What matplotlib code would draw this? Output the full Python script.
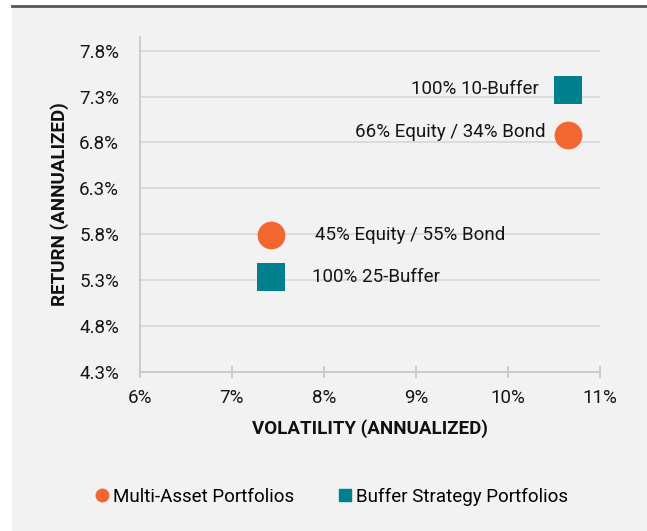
import matplotlib
matplotlib.use("Agg")
import matplotlib.pyplot as plt
from matplotlib.patches import Rectangle
from matplotlib.lines import Line2D
from matplotlib.ticker import FuncFormatter

plt.rcParams['font.family'] = ['Roboto', 'DejaVu Sans']

# data
labels = ["66% Equity / 34% Bond", "45% Equity / 55% Bond", "100% 10-Buffer", "100% 25-Buffer"]
volatility = [10.65, 7.42, 10.65, 7.42]
returns = [6.88, 5.79, 7.37, 5.33]
groups = ["multi", "multi", "buffer", "buffer"]
x_ticks = [6, 7, 8, 9, 10, 11]
y_ticks = [4.3, 4.8, 5.3, 5.8, 6.3, 6.8, 7.3, 7.8]

orange = "#f26631"
teal = "#00808c"
bg = "#f2f2f2"
fs = 13.5

fig = plt.figure(figsize=(6.47, 5.31), dpi=100)
fig.patch.set_facecolor("white")
fig.patches.append(Rectangle((12 / 647, 0), 1, 1 - 6 / 531, transform=fig.transFigure,
                             facecolor=bg, edgecolor="none", zorder=-10))
fig.lines.append(Line2D([12 / 647, 1], [1 - 5.5 / 531, 1 - 5.5 / 531], transform=fig.transFigure,
                        color="#555555", lw=2, zorder=-5))

ax = fig.add_axes([140 / 647, 0.30, 460 / 647, 0.6303])
ax.set_facecolor(bg)

for i in range(len(labels)):
    if groups[i] == "multi":
        ax.scatter(volatility[i], returns[i], s=400, marker="o", color=orange, zorder=3, linewidths=0)
    else:
        ax.scatter(volatility[i], returns[i], s=400, marker="s", color=teal, zorder=3, linewidths=0)

# label placement
offsets = [(-16, 2), (32, 0), (-21, 1), (30, 0)]
for i in range(len(labels)):
    dx, dy = offsets[i]
    ax.annotate(labels[i], (volatility[i], returns[i]), xytext=(dx, dy), textcoords="offset points",
                ha="right" if dx < 0 else "left", va="center", fontsize=fs, color="#151515")

ax.set_xlim(6, 11)
ax.set_ylim(4.3, 7.95)
ax.set_xticks(x_ticks)
ax.set_yticks(y_ticks)
ax.xaxis.set_major_formatter(FuncFormatter(lambda v, p: f"{v:.0f}%"))
ax.yaxis.set_major_formatter(FuncFormatter(lambda v, p: f"{v:.1f}%"))
ax.grid(axis="y", color="#d9d9d9", lw=1.3)
ax.set_axisbelow(True)

for s in ["top", "right"]:
    ax.spines[s].set_visible(False)
ax.spines["left"].set_color("#c8c8c8")
ax.spines["bottom"].set_color("#c8c8c8")
ax.spines["left"].set_linewidth(1.3)
ax.spines["bottom"].set_linewidth(1.3)

ax.tick_params(axis="x", direction="inout", length=9, width=1.3, color="#c8c8c8",
               labelsize=fs, pad=8, labelcolor="#151515")
ax.tick_params(axis="y", length=0, labelsize=fs, pad=15, labelcolor="#151515")

ax.set_xlabel("VOLATILITY (ANNUALIZED)", fontsize=fs, fontweight="bold", labelpad=9, color="#111111")
ax.set_ylabel("RETURN (ANNUALIZED)", fontsize=fs, fontweight="bold", labelpad=7, color="#111111")

handles = [
    Line2D([], [], marker="o", linestyle="none", color=orange, markersize=9, label="Multi-Asset Portfolios"),
    Line2D([], [], marker="s", linestyle="none", color=teal, markersize=8, label="Buffer Strategy Portfolios"),
]
fig.legend(handles=handles, loc="center", bbox_to_anchor=(330 / 647, 1 - 497 / 531), ncol=2,
           frameon=False, fontsize=fs, handletextpad=0.1, columnspacing=2.2, handlelength=1.0)

fig.savefig("out.png", dpi=100, facecolor=fig.get_facecolor())
